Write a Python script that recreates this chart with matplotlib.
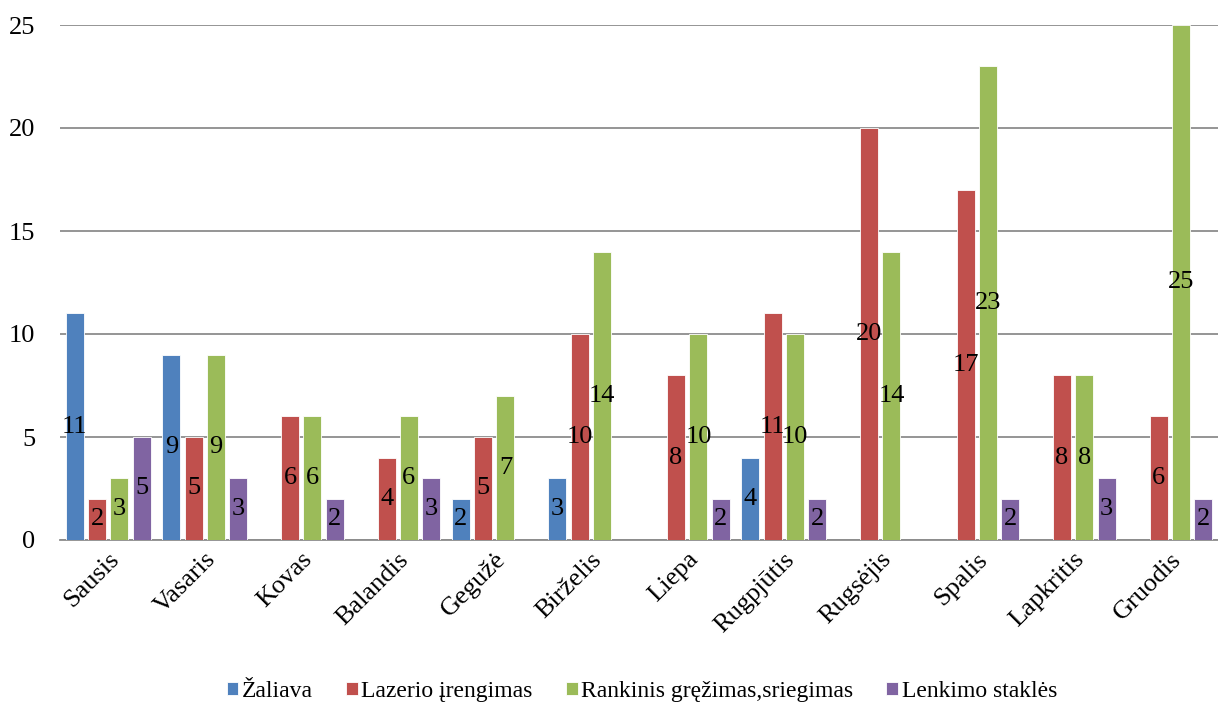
import matplotlib.pyplot as plt
import numpy as np

plt.rcParams['font.family'] = ['Liberation Serif', 'DejaVu Serif']

months = ['Sausis', 'Vasaris', 'Kovas', 'Balandis', 'Gegužė', 'Birželis',
          'Liepa', 'Rugpjūtis', 'Rugsėjis', 'Spalis', 'Lapkritis', 'Gruodis']
zaliava = [11, 9, 0, 0, 2, 3, 0, 4, 0, 0, 0, 0]
lazerio = [2, 5, 6, 4, 5, 10, 8, 11, 20, 17, 8, 6]
rankinis = [3, 9, 6, 6, 7, 14, 10, 10, 14, 23, 8, 25]
lenkimo = [5, 3, 2, 3, 0, 0, 2, 2, 0, 2, 3, 2]

series = [
    ('Žaliava', zaliava, '#4F81BD'),
    ('Lazerio įrengimas', lazerio, '#C0504D'),
    ('Rankinis gręžimas,sriegimas', rankinis, '#9BBB59'),
    ('Lenkimo staklės', lenkimo, '#8064A2'),
]

fig = plt.figure(figsize=(12.18, 7.02), dpi=100)
ax = fig.add_axes([60 / 1218, 1 - 540 / 702, 1 - 60 / 1218, (540 - 25) / 702])

x = np.arange(len(months))
slot = 0.231
width = 0.185
for i, (name, vals, color) in enumerate(series):
    pos = x + (i - 1.5) * slot
    vals = np.array(vals)
    ax.bar(pos, vals, width, color=color, label=name,
           edgecolor='white', linewidth=0.6, zorder=3)
    for p, v in zip(pos, vals):
        if v > 0:
            ax.text(p, v / 2, str(v), ha='center', va='center', fontsize=19, zorder=4)

ax.set_xlim(-0.5, len(months) - 0.5)
ax.set_ylim(0, 25)
ax.set_yticks(range(0, 26, 5))
ax.yaxis.grid(True, color='#8c8c8c', linewidth=1.3, zorder=0)
ax.set_axisbelow(True)
for s in ['top', 'right', 'left']:
    ax.spines[s].set_visible(False)
ax.spines['bottom'].set_color('#8c8c8c')
ax.spines['bottom'].set_linewidth(1.3)
ax.tick_params(axis='both', length=0, labelsize=19)
ax.tick_params(axis='y', pad=18)
ax.tick_params(axis='x', pad=6)
ax.set_xticks(x)
ax.set_xticklabels(months, rotation=45, ha='right', rotation_mode='anchor')

fig.legend(loc='lower center', bbox_to_anchor=(0.527, -0.03), ncol=4, frameon=False,
           fontsize=17, handlelength=0.5, handleheight=0.5, handletextpad=0.15,
           columnspacing=1.4)

fig.savefig('out.png', dpi=100)
